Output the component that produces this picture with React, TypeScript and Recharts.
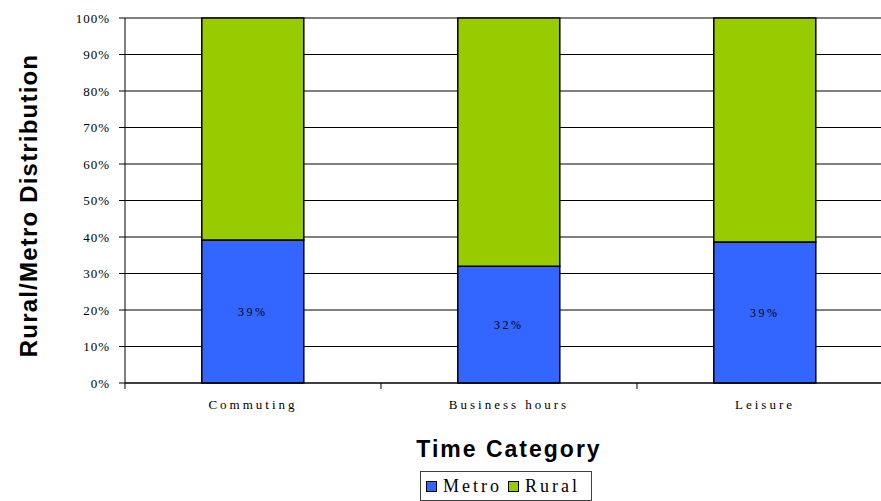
import { BarChart, Bar, XAxis, YAxis, CartesianGrid, LabelList } from 'recharts';

const categories = ['Commuting', 'Business hours', 'Leisure'];
const metro = [39.2, 32, 38.6];
const rural = [60.8, 68, 61.4];
const yTicks = [0, 10, 20, 30, 40, 50, 60, 70, 80, 90, 100];

const series = [
  { key: 'metro', name: 'Metro', color: '#3366FF' },
  { key: 'rural', name: 'Rural', color: '#99CC00' },
];

const data = categories.map((c, i) => ({ name: c, metro: metro[i], rural: rural[i] }));

const serif = '"Liberation Serif", "Times New Roman", serif';
const sans = '"Liberation Sans", Arial, sans-serif';

function YTitle(props: any) {
  const vb = props.viewBox || { x: 0, y: 0, width: 0, height: 0 };
  const x = vb.x + 37;
  const y = vb.y + vb.height / 2 + 5;
  return (
    <text
      x={x}
      y={y}
      transform={`rotate(-90 ${x} ${y})`}
      textAnchor="middle"
      style={{ fontFamily: sans, fontWeight: 700, fontSize: 24, letterSpacing: 1.2 }}
      fill="#000"
    >
      Rural/Metro Distribution
    </text>
  );
}

function XTitle(props: any) {
  const vb = props.viewBox || { x: 0, y: 0, width: 0, height: 0 };
  return (
    <text
      x={vb.x + vb.width / 2}
      y={vb.y + 74}
      textAnchor="middle"
      style={{ fontFamily: sans, fontWeight: 700, fontSize: 23, letterSpacing: 2 }}
      fill="#000"
    >
      Time Category
    </text>
  );
}

// category label, plus tick marks at the band edges (Excel style)
function CatTick(props: any) {
  const { x, y, payload, index } = props;
  const half = (payload && payload.offset) || 0;
  const axisY = y - 6;
  const last = index === categories.length - 1;
  return (
    <g>
      <line x1={x - half} x2={x - half} y1={axisY} y2={axisY + 6} stroke="#000" />
      {last && <line x1={x + half} x2={x + half} y1={axisY} y2={axisY + 6} stroke="#000" />}
      <text
        x={x}
        y={y + 11}
        dy="0.71em"
        textAnchor="middle"
        fill="#000"
        style={{ fontFamily: serif, fontSize: 13, letterSpacing: 3 }}
      >
        {payload.value}
      </text>
    </g>
  );
}

export default function App() {
  return (
    <div
      style={{
        position: 'absolute',
        left: 0,
        top: 0,
        width: 881,
        height: 501,
        overflow: 'hidden',
        background: '#fff',
      }}
    >
      <BarChart
        width={900}
        height={501}
        data={data}
        margin={{ top: 18, right: 7, bottom: 0, left: 0 }}
        barCategoryGap="30%"
      >
        <CartesianGrid vertical={false} stroke="#000" strokeWidth={1} />
        <XAxis
          dataKey="name"
          height={118}
          tickSize={6}
          tickMargin={0}
          tickLine={false}
          axisLine={{ stroke: '#000', strokeWidth: 1 }}
          tick={<CatTick />}
          interval={0}
          label={<XTitle />}
        />
        <YAxis
          width={125}
          domain={[0, 100]}
          ticks={yTicks}
          interval={0}
          tickFormatter={(v: number) => `${v}%`}
          tickSize={6}
          tickMargin={9}
          axisLine={{ stroke: '#000', strokeWidth: 1 }}
          tickLine={{ stroke: '#000' }}
          tick={{ fill: '#000', fontFamily: serif, fontSize: 13, letterSpacing: 1 }}
          label={<YTitle />}
        />
        <Bar
          dataKey="metro"
          name="Metro"
          stackId="a"
          fill={series[0].color}
          stroke="#000"
          strokeWidth={1.5}
          isAnimationActive={false}
        >
          <LabelList
            dataKey="metro"
            position="center"
            formatter={(v: any) => `${Math.round(Number(v))}%`}
            style={{ fill: '#000', fontFamily: serif, fontSize: 12, letterSpacing: 2.5 }}
          />
        </Bar>
        <Bar
          dataKey="rural"
          name="Rural"
          stackId="a"
          fill={series[1].color}
          stroke="#000"
          strokeWidth={1.5}
          isAnimationActive={false}
        />
      </BarChart>
      <div
        style={{
          position: 'absolute',
          left: 420,
          top: 471,
          width: 172,
          height: 30,
          border: '1px solid #404040',
          display: 'flex',
          alignItems: 'center',
          paddingLeft: 5,
          boxSizing: 'border-box',
          fontFamily: serif,
          fontSize: 18,
          letterSpacing: 3,
          color: '#000',
        }}
      >
        {series.map((s) => (
          <div key={s.key} style={{ display: 'flex', alignItems: 'center', marginRight: 6 }}>
            <span
              style={{
                display: 'inline-block',
                width: 9,
                height: 9,
                background: s.color,
                border: '1px solid #000',
                marginRight: 6,
              }}
            />
            <span style={{ lineHeight: '18px' }}>{s.name}</span>
          </div>
        ))}
      </div>
    </div>
  );
}
